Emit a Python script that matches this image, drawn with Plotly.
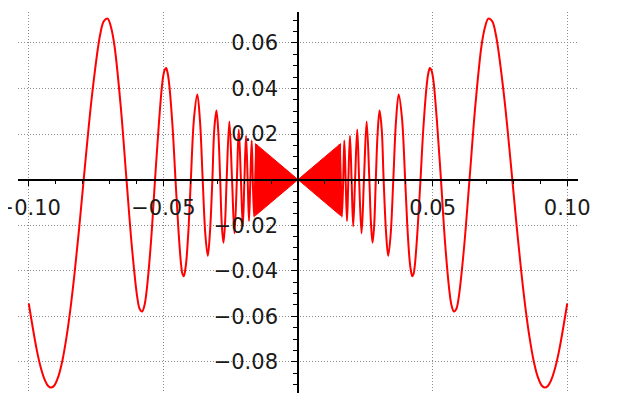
import plotly.graph_objects as go

x_curve = [0.1, 0.097, 0.0955, 0.094, 0.0928, 0.0917, 0.0905, 0.089, 0.0875,
           0.086, 0.0845, 0.083, 0.0813, 0.0796,
           0.0764, 0.0735, 0.0721, 0.0707, 0.0695, 0.0682, 0.0659, 0.0637,
           0.0616, 0.0597, 0.0588, 0.0579, 0.0570, 0.0562, 0.0546, 0.0531,
           0.0516, 0.0503, 0.0496, 0.0490, 0.0484, 0.0478, 0.0466, 0.0455,
           0.0444, 0.0434, 0.0429, 0.0424, 0.0420, 0.0415, 0.0406, 0.0398,
           0.0386, 0.0374, 0.0364, 0.0354,
           0.0344, 0.0335, 0.0327, 0.0318,
           0.0311, 0.0303, 0.0296, 0.0289,
           0.0283, 0.0277, 0.0271, 0.0265,
           0.0255, 0.0245, 0.0236, 0.0227, 0.0220, 0.0212,
           0.0205, 0.0199, 0.0193, 0.0187, 0.0182, 0.0177,
           0.0172, 0.0168, 0.0163, 0.0159, 0.0155]
y_curve = [-0.0544, -0.0750, -0.0827, -0.0881, -0.0906, -0.0913, -0.0904, -0.0864, -0.0794,
           -0.0693, -0.0565, -0.0412, -0.0214, 0.0,
           0.0382, 0.0636, 0.0696, 0.0707, 0.0671, 0.0591, 0.0329, 0.0,
           -0.0308, -0.0517, -0.0568, -0.0579, -0.0551, -0.0486, -0.0273, 0.0,
           0.0258, 0.0435, 0.0479, 0.0490, 0.0467, 0.0414, 0.0233, 0.0,
           -0.0222, -0.0376, -0.0415, -0.0424, -0.0405, -0.0360, -0.0203, 0.0,
           0.0273, 0.0374, 0.0257, 0.0,
           -0.0243, -0.0335, -0.0231, 0.0,
           0.0220, 0.0303, 0.0209, 0.0,
           -0.0200, -0.0277, -0.0192, 0.0,
           0.0255, 0.0, -0.0236, 0.0, 0.0220, 0.0,
           -0.0205, 0.0, 0.0193, 0.0, -0.0182, 0.0,
           0.0172, 0.0, -0.0163, 0.0, 0.0155]

# dense oscillation near the origin, seen as a solid bow-tie
x_core = [0.0, 0.0158, 0.0158, 0.0]
y_core = [0.0, 0.0158, -0.0158, 0.0]

x_ticks = [-0.1, -0.05, 0.05, 0.1]
y_ticks = [-0.08, -0.06, -0.04, -0.02, 0.02, 0.04, 0.06]

RED = '#ff0000'
INK = '#1a1a1a'

fig = go.Figure()

# right and left halves of the curve
for sign in (1, -1):
    fig.add_trace(go.Scatter(
        x=[sign * v for v in x_curve],
        y=y_curve,
        mode='lines',
        line=dict(color=RED, width=2, shape='spline'),
        hoverinfo='skip'
    ))
    fig.add_trace(go.Scatter(
        x=[sign * v for v in x_core],
        y=y_core,
        mode='lines',
        fill='toself',
        fillcolor=RED,
        line=dict(color=RED, width=1),
        hoverinfo='skip'
    ))

x_min, x_max = -0.104, 0.104
y_min, y_max = -0.0937, 0.0736

axis_common = dict(
    showline=True,
    linecolor='black',
    linewidth=1.6,
    ticks='outside',
    ticklen=6,
    tickwidth=1,
    tickcolor='black',
    tickformat='.2f',
    showgrid=True,
    gridcolor='#8c8c8c',
    gridwidth=1,
    griddash='1px,2px',
    zeroline=False,
    anchor='free',
    automargin=False,
    ticklabeloverflow='allow',
    tickfont=dict(family='DejaVu Sans', size=21, color=INK),
)

# the page body adds an 8px offset, so the margins are trimmed by that much
fig.update_layout(
    width=632,
    height=410,
    margin=dict(l=10, r=62, t=4, b=25),
    paper_bgcolor='white',
    plot_bgcolor='white',
    showlegend=False,
    xaxis=dict(
        axis_common,
        range=[x_min, x_max],
        tickmode='array',
        tickvals=x_ticks,
        position=(0 - y_min) / (y_max - y_min),
        ticklabelstandoff=3,
        minor=dict(tickmode='linear', tick0=0, dtick=0.01, ticks='outside',
                   ticklen=4, tickcolor='black', showgrid=False),
    ),
    yaxis=dict(
        axis_common,
        range=[y_min, y_max],
        tickmode='array',
        tickvals=y_ticks,
        position=(0 - x_min) / (x_max - x_min),
        ticklabelstandoff=9,
        minor=dict(tickmode='linear', tick0=0, dtick=0.005, ticks='outside',
                   ticklen=4, tickcolor='black', showgrid=False),
    ),
)

fig.write_html("out.html")
